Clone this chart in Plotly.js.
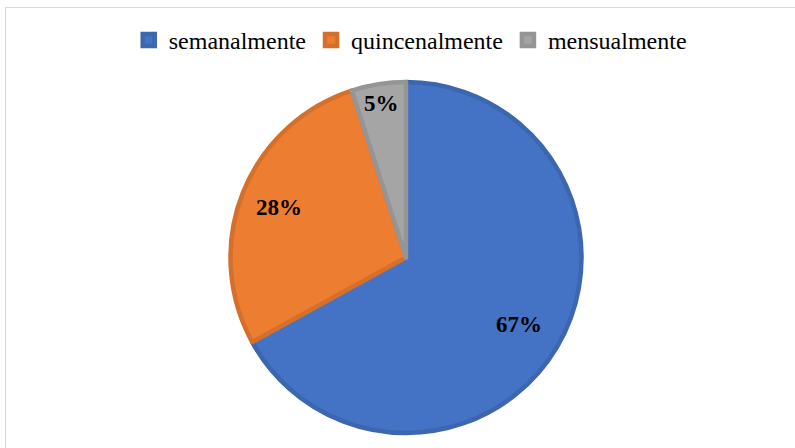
<!DOCTYPE html>
<html>
<head>
<meta charset="utf-8">
<script src="https://cdn.plot.ly/plotly-3.0.1.min.js"></script>
<style>
html,body{margin:0;padding:0;background:#fff;}
#frame{position:absolute;left:5px;top:7px;width:790px;height:441px;border-left:1px solid #d9d9d9;border-top:1px solid #d9d9d9;pointer-events:none;}
#chart{width:795px;height:448px;}
</style>
</head>
<body>
<div id="chart"></div>
<div id="frame"></div>
<script>
const categories = ["semanalmente", "quincenalmente", "mensualmente"];
const values = [67, 28, 5];
const fillColors = ["#4472C4", "#ED7D31", "#A5A5A5"];
const edgeColors = ["#3D66B0", "#D5702C", "#959595"];
const labelRadius = [0.75, 0.78, 0.89];  // label distance as fraction of radius

const W = 795, H = 448;
const M = {l: 0, r: 0, t: 82, b: 15};
const plotW = W - M.l - M.r, plotH = H - M.t - M.b;
const dom = [0.0214, 1];
const cx = (dom[0] + dom[1]) / 2;   // paper
const R = Math.min(plotW * (dom[1] - dom[0]), plotH) / 2;  // px
const total = values.reduce((a, b) => a + b, 0);

let cum = 0;
const annotations = values.map((v, i) => {
  const mid = (cum + v / 2) / total * 2 * Math.PI;
  cum += v;
  const r = R * labelRadius[i];
  return {
    xref: "paper", yref: "paper",
    x: cx + r * Math.sin(mid) / plotW,
    y: 0.5 + r * Math.cos(mid) / plotH,
    text: "<b>" + Math.round(v / total * 100) + "%</b>",
    showarrow: false,
    font: {family: "Liberation Serif, Times New Roman, serif", size: 23, color: "#000"},
    xanchor: "center", yanchor: "middle"
  };
});

const data = [{
  type: "pie",
  labels: categories,
  values: values,
  sort: false,
  direction: "clockwise",
  rotation: 0,
  marker: {colors: fillColors, line: {color: edgeColors, width: 4.5}},
  textinfo: "none",
  hoverinfo: "none",
  domain: {x: dom, y: [0, 1]}
}];

const layout = {
  width: W, height: H,
  margin: M,
  paper_bgcolor: "#fff",
  showlegend: true,
  legend: {
    orientation: "h", x: 0.516, xanchor: "center", xref: "container",
    y: 0.91, yanchor: "middle", yref: "container",
    font: {family: "Liberation Serif, Times New Roman, serif", size: 24, color: "#000"},
    itemwidth: 30, tracegroupgap: 0
  },
  annotations: annotations,
  font: {family: "Liberation Serif, Times New Roman, serif"}
};

Plotly.newPlot("chart", data, layout, {displayModeBar: false, staticPlot: true});
</script>
</body>
</html>
